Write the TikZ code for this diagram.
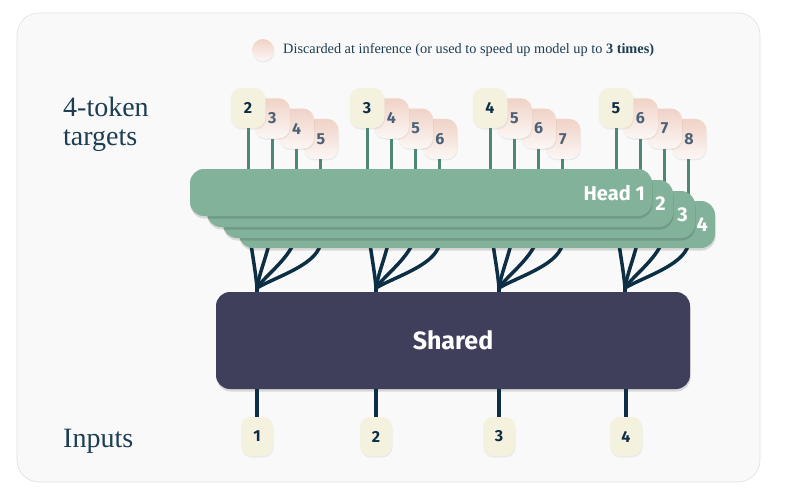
\documentclass[tikz,border=0pt]{standalone}
\usepackage{fontspec}
\setmainfont{Liberation Serif}
\newfontfamily\sansf{Fira Sans}
\usetikzlibrary{shadows}
\definecolor{bgfill}{HTML}{F9F9F9}
\definecolor{bgline}{HTML}{E0E0E0}
\definecolor{cream}{HTML}{F4F1DF}
\definecolor{pinktop}{HTML}{F0D2C6}
\definecolor{pinkbot}{HTML}{FCF7F5}
\definecolor{headgreen}{HTML}{82B29A}
\definecolor{sharedc}{HTML}{3F3F5C}
\definecolor{navy}{HTML}{0D2F46}
\definecolor{stemgreen}{HTML}{4D8777}
\definecolor{slate}{HTML}{4B6177}
\definecolor{ink}{HTML}{1C3D52}
\begin{document}
\begin{tikzpicture}[x=1pt,y=-1pt,
  hshadow/.style={general shadow={fill=black, opacity=0.13, shadow xshift=0.5pt, shadow yshift=-2.5pt}},
  lshadow/.style={general shadow={fill=black, opacity=0.06, shadow xshift=0.5pt, shadow yshift=-1.5pt}},
  primbox/.style={fill=cream, rounded corners=11pt, minimum width=35pt, minimum height=40pt, inner sep=0pt, font=\sansf\bfseries\fontsize{16}{16}\selectfont, text=navy, lshadow},
  secbox/.style={top color=pinktop, bottom color=pinkbot, rounded corners=11pt, minimum width=35pt, minimum height=40pt, inner sep=0pt, font=\sansf\bfseries\fontsize{16}{16}\selectfont, text=slate, lshadow},
  inbox/.style={fill=cream, rounded corners=10pt, minimum width=32pt, minimum height=39pt, inner sep=0pt, font=\sansf\bfseries\fontsize{16}{16}\selectfont, text=navy, lshadow},
  headbox/.style={fill=headgreen, rounded corners=14pt, minimum height=47pt, inner sep=0pt, hshadow},
  headlabel/.style={text=white, font=\sansf\bfseries\fontsize{20}{20}\selectfont, inner sep=0pt, anchor=east},
  stem/.style={draw=stemgreen, line width=3pt},
  wire/.style={draw=navy, line width=3.5pt},
  title/.style={text=ink, font=\fontsize{28}{29}\selectfont, anchor=base west, inner sep=0pt},
]
\useasboundingbox (0,0) rectangle (788,498);
% background panel
\draw[bgline, fill=bgfill, rounded corners=22pt, line width=0.6pt] (17,13) rectangle (760,482);

% legend
\node[circle, minimum size=22pt, inner sep=0pt, top color=pinktop, bottom color=pinkbot, lshadow] (leg) at (263,50) {};
\node[anchor=west, text=ink, font=\fontsize{14.3}{17}\selectfont, inner sep=0pt] (legt) at (283,50) {Discarded at inference (or used to speed up model up to \textbf{3 times)}};

% titles
\node[title] (tt1) at (63,116) {4-token};
\node[title] (tt2) at (63,145) {targets};
\node[title] (inp) at (63,447) {Inputs};

% target boxes
\foreach \x [count=\g from 2] in {248,367,490,616} {
  \foreach \k in {3,2,1} {
    \pgfmathtruncatemacro\n{\g+\k}
    \node[secbox] (t\g-\k) at ({\x+24.3*\k},{108+10.3*\k}) {\n};
  }
  \node[primbox] (t\g-0) at (\x,108) {\g};
}

% stems from targets down behind heads
\foreach \x [count=\g from 2] in {248,367,490,616} {
  \foreach \k/\ht in {0/175,1/186,2/197,3/207} {
    \coordinate (s\g-\k) at ({\x+24.3*\k},\ht);
    \draw[stem] (t\g-\k.south) -- (s\g-\k);
  }
}

% shared block
\node[fill=sharedc, rounded corners=14pt, minimum width=474pt, minimum height=97pt, inner sep=0pt, text=white, font=\sansf\bfseries\fontsize{25}{25}\selectfont, hshadow] (sh) at (453,340.5) {Shared};

% branches from shared to heads
\foreach \x [count=\g from 2] in {248,367,490,616} {
  \coordinate (j\g) at ({\x+9},288);
  \coordinate (b\g-0) at (\x,208);
  \coordinate (b\g-1) at ({\x+24.3},219);
  \coordinate (b\g-2) at ({\x+48.6},230);
  \coordinate (b\g-3) at ({\x+72.9},240);
  \draw[wire] (sh.north -| j\g) -- (j\g);
  \draw[wire] (j\g) .. controls +(-2,-25) and +(0,28) .. (b\g-0);
  \draw[wire] (j\g) .. controls +(3,-20) and +(0,26) .. (b\g-1);
  \draw[wire] (j\g) .. controls +(10,-15) and +(0,24) .. (b\g-2);
  \draw[wire] (j\g) .. controls +(20,-12) and +(0,24) .. (b\g-3);
}

% heads (back to front)
\node[headbox, minimum width=476pt] (h4) at (477,224.5) {};
\node[headbox, minimum width=472pt] (h3) at (459,214.5) {};
\node[headbox, minimum width=466pt] (h2) at (440,203.5) {};
\node[headbox, minimum width=462pt] (h1) at (421,192.5) {};
\node[headlabel] (l4) at (708,225) {4};
\node[headlabel] (l3) at (688,214.5) {3};
\node[headlabel] (l2) at (666,204) {2};
\node[headlabel] (l1) at (645,193) {Head 1};

% inputs
\foreach \x [count=\g] in {257,376,499,626} {
  \node[inbox] (i\g) at (\x,436.5) {\g};
  \draw[wire] (sh.south -| i\g) -- (i\g.north);
}
\end{tikzpicture}
\end{document}
